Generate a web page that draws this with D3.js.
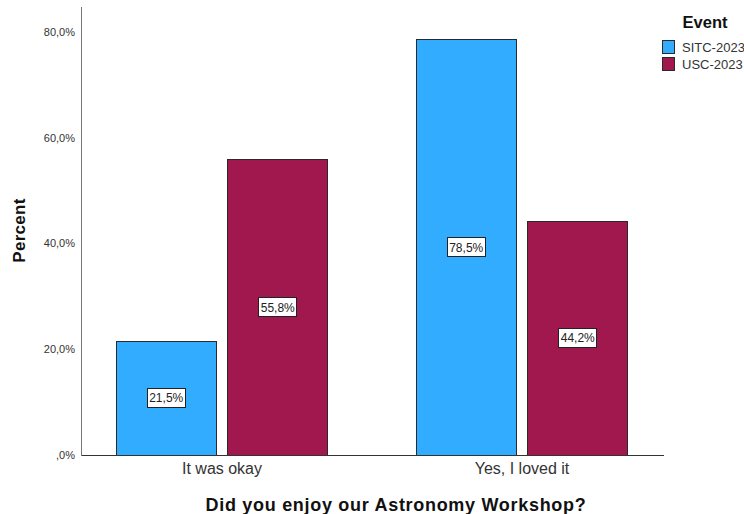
<!DOCTYPE html>
<html>
<head>
<meta charset="utf-8">
<script src="https://cdn.jsdelivr.net/npm/d3@7"></script>
<style>
  html, body { margin: 0; padding: 0; background: #fff; }
  svg { display: block; font-family: Arial, "Liberation Sans", sans-serif; }
</style>
</head>
<body>
<svg id="chart" width="744" height="514"></svg>
<script>
// Survey answers: share of respondents per event
const categories = ["It was okay", "Yes, I loved it"];
const series = ["SITC-2023", "USC-2023"];
const sitcValues = [21.5, 78.5];
const uscValues = [55.8, 44.2];
const tickValues = [0, 20, 40, 60, 80];
const tickLabels = [",0%", "20,0%", "40,0%", "60,0%", "80,0%"];
const colors = ["#31acff", "#a0184e"];

const valuesBySeries = [sitcValues, uscValues];
const rows = [];
categories.forEach((c, i) => {
  series.forEach((s, j) => rows.push({ category: c, series: s, value: valuesBySeries[j][i], si: j }));
});

const svg = d3.select("#chart");
const plotLeft = 81, plotRight = 663, plotTop = 6, plotBottom = 455;

const x0 = d3.scaleBand().domain(categories).range([plotLeft, plotRight])
  .paddingInner(0.296).paddingOuter(0.118);
const x1 = d3.scaleBand().domain(series).range([0, x0.bandwidth()])
  .paddingInner(0.107);
const y = d3.scaleLinear().domain([0, 84.9]).range([plotBottom, plotTop]);
const color = d3.scaleOrdinal().domain(series).range(colors);

// Bars
svg.append("g").selectAll("rect").data(rows).join("rect")
  .attr("x", d => x0(d.category) + x1(d.series))
  .attr("y", d => y(d.value))
  .attr("width", x1.bandwidth())
  .attr("height", d => y(0) - y(d.value))
  .attr("fill", d => color(d.series))
  .attr("stroke", "#2a2a2a")
  .attr("stroke-width", 1)
  .attr("shape-rendering", "crispEdges");

// Y axis
const yAxis = d3.axisLeft(y).tickValues(tickValues)
  .tickFormat((d, i) => tickLabels[i]).tickSize(0).tickPadding(6);
const gy = svg.append("g").attr("transform", `translate(${plotLeft},0)`).call(yAxis);
gy.select(".domain").attr("stroke", "#777").attr("shape-rendering", "crispEdges");
gy.selectAll("text").attr("font-size", 11).attr("fill", "#333")
  .attr("font-family", "Arial, 'Liberation Sans', sans-serif");

// X axis
const xAxis = d3.axisBottom(x0).tickSize(0).tickPadding(8);
const gx = svg.append("g").attr("transform", `translate(0,${plotBottom})`).call(xAxis);
gx.select(".domain").attr("stroke", "#333").attr("shape-rendering", "crispEdges");
gx.selectAll("text").attr("font-size", 16).attr("fill", "#333")
  .attr("font-family", "Arial, 'Liberation Sans', sans-serif");

// Value labels in boxes at bar middles
const labels = svg.append("g").selectAll("g").data(rows).join("g")
  .attr("transform", d => `translate(${x0(d.category) + x1(d.series) + x1.bandwidth() / 2},${(y(d.value) + y(0)) / 2})`);
labels.append("rect")
  .attr("x", -19).attr("y", -9.5).attr("width", 38).attr("height", 19)
  .attr("fill", "#fff").attr("stroke", "#222").attr("stroke-width", 1)
  .attr("shape-rendering", "crispEdges");
labels.append("text")
  .attr("text-anchor", "middle").attr("dy", "0.36em")
  .attr("font-size", 12).attr("fill", "#222")
  .text(d => d3.format(".1f")(d.value).replace(".", ",") + "%");

// Axis titles
svg.append("text")
  .attr("transform", `translate(25,${(plotTop + plotBottom) / 2}) rotate(-90)`)
  .attr("text-anchor", "middle")
  .attr("font-size", 17).attr("font-weight", "bold").attr("fill", "#111")
  .attr("letter-spacing", 0.3)
  .text("Percent");
svg.append("text")
  .attr("x", 396).attr("y", 511)
  .attr("text-anchor", "middle")
  .attr("font-size", 18).attr("font-weight", "bold").attr("fill", "#111")
  .attr("letter-spacing", 0.7)
  .text("Did you enjoy our Astronomy Workshop?");

// Legend
const legend = svg.append("g");
legend.append("text").attr("x", 705).attr("y", 28).attr("text-anchor", "middle")
  .attr("font-size", 16.5).attr("font-weight", "bold").attr("fill", "#111").text("Event");
const items = legend.selectAll("g.item").data(series).join("g").attr("class", "item")
  .attr("transform", (d, i) => `translate(662,${40 + i * 17})`);
items.append("rect").attr("width", 12).attr("height", 13)
  .attr("fill", d => color(d)).attr("stroke", "#2a2a2a").attr("shape-rendering", "crispEdges");
items.append("text").attr("x", 20).attr("y", 11.5)
  .attr("font-size", 13).attr("fill", "#333").text(d => d);
</script>
</body>
</html>
